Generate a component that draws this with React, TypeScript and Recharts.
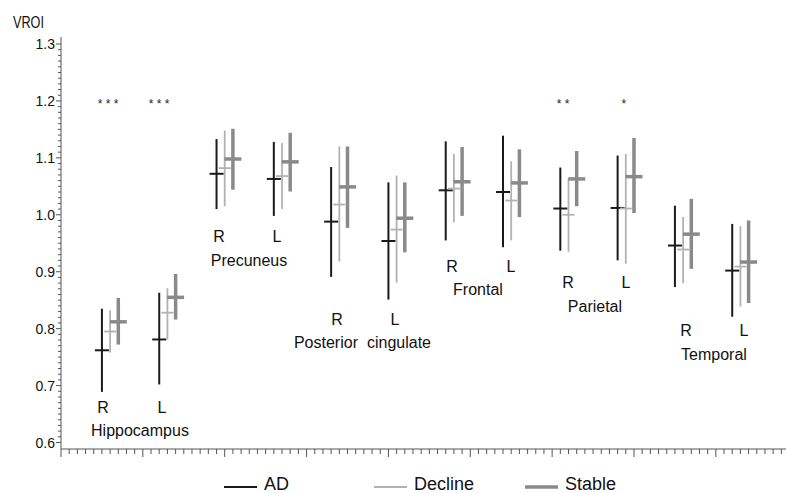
import React from 'react';
import { ComposedChart, Scatter, ErrorBar, XAxis, YAxis, Legend } from 'recharts';

// ---- data ----
const regions = ['Hippocampus', 'Precuneus', 'Posterior cingulate', 'Frontal', 'Parietal', 'Temporal'];
const sideLabels = ['R', 'L'];
const seriesNames = ['AD', 'Decline', 'Stable'];

// order: Hippocampus R, L, Precuneus R, L, Post. cingulate R, L, Frontal R, L, Parietal R, L, Temporal R, L
const adMean = [0.762, 0.781, 1.072, 1.063, 0.988, 0.954, 1.043, 1.040, 1.011, 1.012, 0.946, 0.902];
const adLow = [0.689, 0.702, 1.010, 0.998, 0.891, 0.851, 0.955, 0.943, 0.937, 0.920, 0.873, 0.821];
const adHigh = [0.835, 0.863, 1.133, 1.128, 1.084, 1.057, 1.129, 1.139, 1.083, 1.104, 1.016, 0.984];

const declineMean = [0.795, 0.828, 1.082, 1.068, 1.018, 0.974, 1.046, 1.025, 1.000, 1.011, 0.939, 0.909];
const declineLow = [0.758, 0.781, 1.015, 1.010, 0.918, 0.881, 0.987, 0.955, 0.935, 0.914, 0.880, 0.839];
const declineHigh = [0.832, 0.871, 1.148, 1.126, 1.120, 1.069, 1.107, 1.094, 1.064, 1.107, 0.996, 0.980];

const stableMean = [0.812, 0.855, 1.098, 1.093, 1.049, 0.994, 1.058, 1.056, 1.063, 1.067, 0.966, 0.917];
const stableLow = [0.772, 0.816, 1.044, 1.041, 0.977, 0.934, 0.998, 0.996, 1.015, 1.003, 0.905, 0.845];
const stableHigh = [0.854, 0.896, 1.151, 1.144, 1.120, 1.057, 1.119, 1.115, 1.112, 1.135, 1.028, 0.990];

const yTickLabels = ['0.6', '0.7', '0.8', '0.9', '1.0', '1.1', '1.2', '1.3'];
const yAxisTitle = 'VROI';

// annotation texts (x, y in data units)
const sideAnnotations = [
  { x: 0.513, y: 0.661, text: 'R' }, { x: 1.234, y: 0.661, text: 'L' },
  { x: 1.930, y: 0.961, text: 'R' }, { x: 2.639, y: 0.961, text: 'L' },
  { x: 3.372, y: 0.816, text: 'R' }, { x: 4.080, y: 0.816, text: 'L' },
  { x: 4.776, y: 0.909, text: 'R' }, { x: 5.497, y: 0.909, text: 'L' },
  { x: 6.194, y: 0.881, text: 'R' }, { x: 6.902, y: 0.881, text: 'L' },
  { x: 7.635, y: 0.796, text: 'R' }, { x: 8.344, y: 0.796, text: 'L' },
];
const regionAnnotations = [
  { x: 0.965, y: 0.621, text: 'Hippocampus', anchor: 'middle' },
  { x: 2.297, y: 0.919, text: 'Precuneus', anchor: 'middle' },
  { x: 3.628, y: 0.775, text: 'Posterior', anchor: 'end' },
  { x: 3.738, y: 0.775, text: 'cingulate', anchor: 'start' },
  { x: 5.094, y: 0.868, text: 'Frontal', anchor: 'middle' },
  { x: 6.523, y: 0.839, text: 'Parietal', anchor: 'middle' },
  { x: 7.977, y: 0.754, text: 'Temporal', anchor: 'middle' },
];
const starAnnotations = [
  { x: 0.574, y: 1.2, text: '* * *' },
  { x: 1.197, y: 1.2, text: '* * *' },
  { x: 6.133, y: 1.2, text: '* *' },
  { x: 6.877, y: 1.2, text: '*' },
];

// ---- layout / style ----
const FONT = '"Liberation Sans", Arial, Helvetica, sans-serif';
const colors = ['#1a1a1a', '#b2b2b2', '#8a8a8a'];
const strokeWidths = [2, 1.8, 3.5];
const tickWidths = [14, 12, 17];

const groupX = (k: number) => 0.5 + 0.7 * k;
const seriesOffset = [0, 0.1, 0.2];

const build = (mean: number[], low: number[], high: number[], s: number) =>
  mean.map((m, i) => ({
    x: Math.round((groupX(i) + seriesOffset[s]) * 1000) / 1000,
    y: m,
    err: [m - low[i], high[i] - m],
  }));

const seriesData = [
  build(adMean, adLow, adHigh, 0),
  build(declineMean, declineLow, declineHigh, 1),
  build(stableMean, stableLow, stableHigh, 2),
];

const X_MAX = 8.857;
const Y_MIN = 0.5886;
const Y_MAX = 1.3123;

const xTicks = Array.from({ length: 89 }, (_, i) => i / 10);
const majorY = yTickLabels.map(Number);
const yTicks = Array.from({ length: 71 }, (_, i) => Math.round(60 + i) / 100);

const XTick = (props: any) => {
  const { x, y, payload } = props;
  const v = payload.value;
  const major = Math.abs(v - Math.round(v)) < 1e-6;
  return <line x1={x} x2={x} y1={y} y2={y + (major ? 8 : 5)} stroke="#555" strokeWidth={1} />;
};

const YTick = (props: any) => {
  const { x, y, payload } = props;
  const v = payload.value;
  const idx = majorY.findIndex((m) => Math.abs(m - v) < 1e-6);
  const major = idx >= 0;
  return (
    <g>
      <line x1={x} x2={x - (major ? 5 : 3)} y1={y} y2={y} stroke="#555" strokeWidth={1} />
      {major && (
        <text x={x - 6} y={y} textAnchor="end" dominantBaseline="central" fontSize={14} fontFamily={FONT} fill="#111">
          {yTickLabels[idx]}
        </text>
      )}
    </g>
  );
};

const makeMeanShape = (s: number) => (props: any) => {
  const { cx, cy } = props;
  if (cx == null || cy == null) return <g />;
  const w = tickWidths[s];
  return <line x1={cx - w / 2} x2={cx + w / 2} y1={cy} y2={cy} stroke={colors[s]} strokeWidth={strokeWidths[s]} />;
};

const sideShape = (props: any) => (
  <text x={props.cx} y={props.cy} textAnchor="middle" dominantBaseline="central" fontSize={16} fontFamily={FONT} fill="#111">
    {props.payload.text}
  </text>
);
const regionShape = (props: any) => (
  <text x={props.cx} y={props.cy} textAnchor={props.payload.anchor} dominantBaseline="central" fontSize={16} fontFamily={FONT} fill="#111">
    {props.payload.text}
  </text>
);
const starShape = (props: any) => (
  <text x={props.cx} y={props.cy + 7} textAnchor="middle" fontSize={12} fontFamily={FONT} fill="#222">
    {props.payload.text}
  </text>
);

const legendLeft = [224, 374, 525];
const LegendContent = () => (
  <svg width={786} height={24} style={{ display: 'block' }}>
    {seriesNames.map((n, i) => (
      <g key={n}>
        <line x1={legendLeft[i]} x2={legendLeft[i] + 33} y1={15} y2={15} stroke={colors[i]} strokeWidth={strokeWidths[i]} />
        <text x={legendLeft[i] + 40} y={12} dominantBaseline="central" fontSize={18} fontFamily={FONT} fill="#111">
          {n}
        </text>
      </g>
    ))}
  </svg>
);

export default function App() {
  return (
    <div style={{ position: 'absolute', left: 0, top: 0, width: 786, height: 493, background: '#fff' }}>
      <ComposedChart width={786} height={493} margin={{ top: 37, right: 0, left: 0, bottom: 0 }}>
        <XAxis
          xAxisId="bottom"
          type="number"
          dataKey="x"
          domain={[0, X_MAX]}
          allowDataOverflow
          ticks={xTicks}
          interval={0}
          tick={<XTick />}
          tickLine={false}
          tickSize={0}
          tickMargin={0}
          height={44}
          axisLine={{ stroke: '#555', strokeWidth: 1 }}
        />
        <XAxis
          xAxisId="top"
          orientation="top"
          type="number"
          domain={[0, X_MAX]}
          allowDataOverflow
          tick={false}
          tickLine={false}
          height={0}
          axisLine={{ stroke: '#555', strokeWidth: 1 }}
        />
        <YAxis
          type="number"
          dataKey="y"
          domain={[Y_MIN, Y_MAX]}
          allowDataOverflow
          ticks={yTicks}
          interval={0}
          tick={<YTick />}
          tickLine={false}
          tickSize={0}
          tickMargin={0}
          width={61}
          axisLine={{ stroke: '#555', strokeWidth: 1 }}
        />
        <Legend
          verticalAlign="middle"
          align="center"
          layout="horizontal"
          wrapperStyle={{ top: 472, left: 0, width: 786 }}
          content={<LegendContent />}
        />
        {seriesNames.map((n, s) => (
          <Scatter
            key={n}
            name={n}
            xAxisId="bottom"
            data={seriesData[s]}
            fill={colors[s]}
            shape={makeMeanShape(s)}
            isAnimationActive={false}
          >
            <ErrorBar dataKey="err" direction="y" width={0} stroke={colors[s]} strokeWidth={strokeWidths[s]} isAnimationActive={false} />
          </Scatter>
        ))}
        <Scatter name="sides" xAxisId="bottom" data={sideAnnotations} shape={sideShape} legendType="none" isAnimationActive={false} />
        <Scatter name="regions" xAxisId="bottom" data={regionAnnotations} shape={regionShape} legendType="none" isAnimationActive={false} />
        <Scatter name="stars" xAxisId="bottom" data={starAnnotations} shape={starShape} legendType="none" isAnimationActive={false} />
      </ComposedChart>
      <svg width={60} height={34} style={{ position: 'absolute', left: 0, top: 0 }}>
        <text x={13} y={28} fontSize={16} fontFamily={FONT} fill="#111" textLength={31} lengthAdjust="spacingAndGlyphs">
          {yAxisTitle}
        </text>
      </svg>
    </div>
  );
}
